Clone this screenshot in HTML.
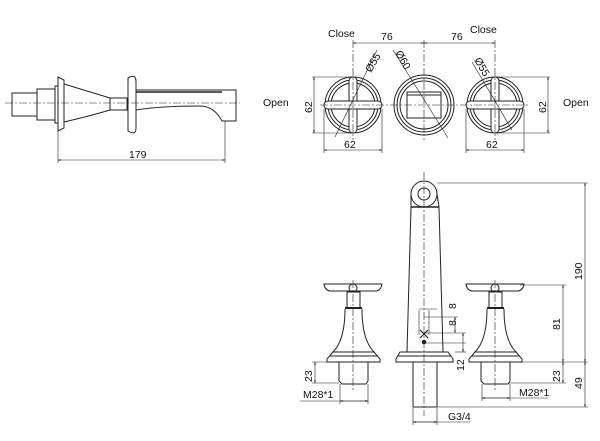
<!DOCTYPE html>
<html><head><meta charset="utf-8"><style>
html,body{margin:0;padding:0;background:#fff}
svg{display:block}
text{font-family:"Liberation Sans",sans-serif;font-size:10.5px;fill:#111}
</style></head><body>
<svg width="600" height="441" viewBox="0 0 600 441" xmlns="http://www.w3.org/2000/svg">
<defs>
<marker id="a" viewBox="0 0 6 6" refX="6" refY="3" markerWidth="5" markerHeight="5" orient="auto-start-reverse"><path d="M0,1 L6,3 L0,5" fill="none" stroke="#333" stroke-width="0.8"/></marker>
</defs>
<g fill="none" stroke="#222" stroke-width="1">
<!-- side view -->
<line x1="5" y1="103" x2="240" y2="103" stroke-dasharray="8,2,2,2" stroke-width="0.6"/>
<rect x="12" y="93" width="25" height="23"/>
<rect x="37" y="89" width="18" height="31"/>
<rect x="55" y="86" width="3" height="37"/>
<path d="M58,77 L64,80 L64,128 L58,131 Z"/>
<path d="M64,84 Q90,92 110,98 L110,110 Q90,116 64,122"/>
<rect x="110" y="98" width="17" height="12"/>
<path d="M128,78 Q136,73 136,82 L136,128 Q136,136 128,131 Z"/>
<path d="M136,90 L236,90 L236,121 L222,121 Q214,106 200,106 Q160,106 136,110" />
<line x1="136" y1="92" x2="222" y2="92" stroke-width="1.5"/>
<line x1="58" y1="131" x2="58" y2="163" stroke-width="0.6"/>
<line x1="225" y1="121" x2="225" y2="163" stroke-width="0.6"/>
<line x1="58" y1="160" x2="225" y2="160" stroke-width="0.6" marker-start="url(#a)" marker-end="url(#a)"/>

<!-- top view knobs -->
<g id="k">
<circle cx="353" cy="105" r="28"/>
<circle cx="353" cy="105" r="25"/>
<circle cx="353" cy="105" r="22"/>
<rect x="349" y="77" width="8" height="56" rx="4" fill="#fff"/>
<rect x="324" y="101" width="58" height="8" rx="4" fill="#fff"/>
</g>
<use href="#k" x="142"/>
<circle cx="424" cy="105" r="30"/>
<circle cx="424" cy="105" r="27"/>
<circle cx="424" cy="105" r="24"/>
<rect x="407" y="92" width="34" height="26"/>
<line x1="407" y1="95" x2="441" y2="95"/>
<g stroke-width="0.6">
<line x1="353" y1="40" x2="353" y2="140" stroke-dasharray="8,2,2,2"/>
<line x1="424" y1="40" x2="424" y2="140" stroke-dasharray="8,2,2,2"/>
<line x1="495" y1="40" x2="495" y2="140" stroke-dasharray="8,2,2,2"/>
<line x1="320" y1="105" x2="530" y2="105" stroke-dasharray="8,2,2,2"/>
<line x1="353" y1="43" x2="424" y2="43" marker-start="url(#a)" marker-end="url(#a)"/>
<line x1="424" y1="43" x2="495" y2="43" marker-start="url(#a)" marker-end="url(#a)"/>
<line x1="335" y1="137" x2="377" y2="50"/>
<line x1="393" y1="50" x2="448" y2="138"/>
<line x1="472" y1="62" x2="512" y2="130"/>
<line x1="312" y1="77" x2="353" y2="77"/><line x1="312" y1="133" x2="353" y2="133"/>
<line x1="314" y1="77" x2="314" y2="133" marker-start="url(#a)" marker-end="url(#a)"/>
<line x1="324" y1="109" x2="324" y2="153"/><line x1="382" y1="109" x2="382" y2="153"/>
<line x1="324" y1="150" x2="382" y2="150" marker-start="url(#a)" marker-end="url(#a)"/>
<line x1="495" y1="77" x2="550" y2="77"/><line x1="495" y1="133" x2="550" y2="133"/>
<line x1="548" y1="77" x2="548" y2="133" marker-start="url(#a)" marker-end="url(#a)"/>
<line x1="466" y1="109" x2="466" y2="153"/><line x1="524" y1="109" x2="524" y2="153"/>
<line x1="466" y1="150" x2="524" y2="150" marker-start="url(#a)" marker-end="url(#a)"/>
</g>

<!-- front view spout -->
<circle cx="424" cy="194" r="13"/>
<circle cx="424" cy="194" r="6"/>
<path d="M411,194 L411,207 L407,352 L443,352 L439,207 L437,194"/>
<line x1="411" y1="207" x2="439" y2="207" stroke-width="1.5"/>
<path d="M400,352 L448,352 L453,359 L453,362 L396,362 L396,359 Z"/>
<line x1="398" y1="356" x2="451" y2="356"/>
<rect x="413" y="362" width="24" height="45"/>
<line x1="424" y1="172" x2="424" y2="416" stroke-width="0.6" stroke-dasharray="8,2,2,2"/>
<line x1="419" y1="310" x2="419" y2="335" stroke-width="0.6"/><line x1="429" y1="310" x2="429" y2="335" stroke-width="0.6"/>
<path d="M420,330 L428,338 M428,330 L420,338" stroke-width="1.2"/>
<circle cx="424" cy="342" r="1.8" fill="#222"/>

<!-- handles -->
<g id="h">
<path d="M324,284 L382,284 Q381,291 375,291 L331,291 Q325,291 324,284 Z"/>
<circle cx="353" cy="288" r="4"/>
<rect x="347" y="292" width="13" height="16"/>
<line x1="345" y1="308" x2="362" y2="308" stroke-width="2"/>
<path d="M345,309 Q345,340 333,352 L374,352 Q362,340 362,309"/>
<path d="M333,352 L374,352 L380,359 L380,362 L327,362 L327,359 Z"/>
<line x1="330" y1="356" x2="378" y2="356"/>
<path d="M339,362 L339,381 L342,384 L366,384 L368,381 L368,362"/>
<line x1="353" y1="280" x2="353" y2="390" stroke-width="0.6" stroke-dasharray="8,2,2,2"/>
</g>
<use href="#h" x="142"/>

<!-- dims front -->
<g stroke-width="0.6">
<line x1="437" y1="183" x2="588" y2="183"/>
<line x1="585" y1="183" x2="585" y2="362" marker-start="url(#a)" marker-end="url(#a)"/>
<line x1="508" y1="362" x2="588" y2="362"/>
<line x1="585" y1="362" x2="585" y2="407" marker-start="url(#a)" marker-end="url(#a)"/>
<line x1="437" y1="407" x2="588" y2="407"/>
<line x1="520" y1="285" x2="566" y2="285"/>
<line x1="563" y1="285" x2="563" y2="362" marker-start="url(#a)" marker-end="url(#a)"/>
<line x1="563" y1="362" x2="563" y2="383" marker-start="url(#a)" marker-end="url(#a)"/>
<line x1="508" y1="383" x2="566" y2="383"/>
<line x1="312" y1="362" x2="336" y2="362"/><line x1="312" y1="383" x2="339" y2="383"/>
<line x1="315" y1="362" x2="315" y2="383" marker-start="url(#a)" marker-end="url(#a)"/>
<line x1="340" y1="384" x2="340" y2="404"/><line x1="368" y1="384" x2="368" y2="404"/>
<line x1="300" y1="401" x2="368" y2="401"/>
<line x1="340" y1="401" x2="368" y2="401" marker-start="url(#a)" marker-end="url(#a)"/>
<line x1="482" y1="384" x2="482" y2="401"/><line x1="510" y1="384" x2="510" y2="401"/>
<line x1="482" y1="398" x2="548" y2="398"/>
<line x1="482" y1="398" x2="510" y2="398" marker-start="url(#a)" marker-end="url(#a)"/>
<line x1="413" y1="408" x2="413" y2="425"/><line x1="437" y1="408" x2="437" y2="425"/>
<line x1="413" y1="422" x2="470" y2="422"/>
<line x1="413" y1="422" x2="437" y2="422" marker-start="url(#a)" marker-end="url(#a)"/>
<line x1="419" y1="309" x2="437" y2="309"/>
<line x1="424" y1="317" x2="458" y2="317"/><line x1="424" y1="333" x2="466" y2="333"/>
<line x1="455" y1="317" x2="455" y2="333" marker-start="url(#a)" marker-end="url(#a)"/>
<line x1="424" y1="343" x2="466" y2="343"/>
<line x1="463" y1="333" x2="463" y2="352" marker-start="url(#a)" marker-end="url(#a)"/>
<line x1="455" y1="352" x2="466" y2="352"/>
</g>
</g>

<!-- labels -->
<text x="129" y="158">179</text>
<text x="328" y="37">Close</text>
<text x="470" y="33">Close</text>
<text x="263" y="106">Open</text>
<text x="563" y="106">Open</text>
<text x="381" y="40">76</text>
<text x="451" y="40">76</text>
<text x="344" y="148">62</text>
<text x="486" y="148">62</text>
<text transform="translate(312,113) rotate(-90)">62</text>
<text transform="translate(546,113) rotate(-90)">62</text>
<text transform="translate(371,73) rotate(-60)">Ø55</text>
<text transform="translate(395,53) rotate(60)">Ø60</text>
<text transform="translate(474,60) rotate(60)">Ø55</text>
<text transform="translate(582,280) rotate(-90)">190</text>
<text transform="translate(582,389) rotate(-90)">49</text>
<text transform="translate(560,330) rotate(-90)">81</text>
<text transform="translate(560,382) rotate(-90)">23</text>
<text transform="translate(312,382) rotate(-90)">23</text>
<text x="303" y="398">M28*1</text>
<text x="519" y="396">M28*1</text>
<text x="448" y="420">G3/4</text>
<text transform="translate(456,309) rotate(-90)">8</text>
<text transform="translate(456,326) rotate(-90)">8</text>
<text transform="translate(464,371) rotate(-90)">12</text>
</svg>
</body></html>
